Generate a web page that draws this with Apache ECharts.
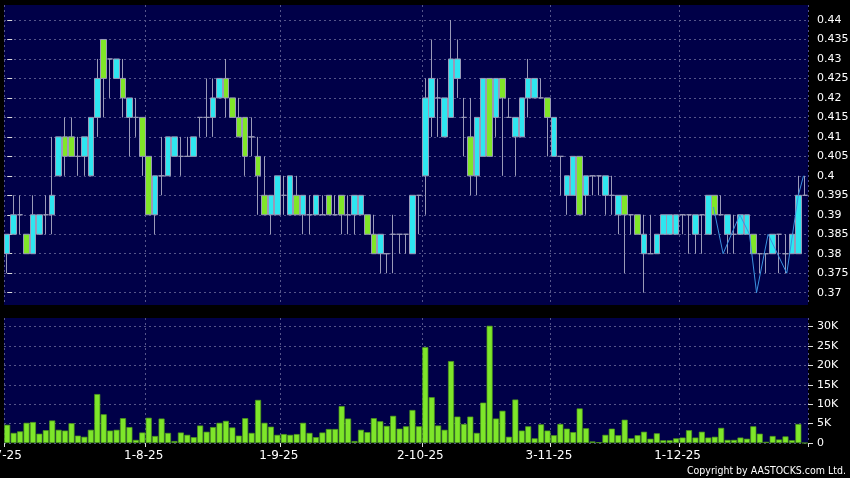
<!DOCTYPE html>
<html>
<head>
<meta charset="utf-8">
<script src="https://cdn.jsdelivr.net/npm/echarts@6/dist/echarts.min.js"></script>
<style>
  html, body { margin: 0; padding: 0; background: #000; }
  #chart { width: 850px; height: 478px; }
</style>
</head>
<body>
<div id="chart"></div>
<script>
// trading days per month (HK calendar, Jul-Dec 2025)
const julDays = [2, 3, 4, 7, 8, 9, 10, 11, 14, 15, 16, 17, 18, 21, 22, 23, 24, 25, 28, 29, 30, 31]
const augDays = [1, 4, 5, 6, 7, 8, 11, 12, 13, 14, 15, 18, 19, 20, 21, 22, 25, 26, 27, 28, 29]
const sepDays = [1, 2, 3, 4, 5, 8, 9, 10, 11, 12, 15, 16, 17, 18, 19, 22, 23, 24, 25, 26, 29, 30]
const octDays = [2, 3, 6, 8, 9, 10, 13, 14, 15, 16, 17, 20, 21, 22, 23, 24, 27, 28, 30, 31]
const novDays = [3, 4, 5, 6, 7, 10, 11, 12, 13, 14, 17, 18, 19, 20, 21, 24, 25, 26, 27, 28]
const decDays = [1, 2, 3, 4, 5, 8, 9, 10, 11, 12, 15, 16, 17, 18, 19, 22, 23, 24, 29, 30]

const months = [[julDays, 7], [augDays, 8], [sepDays, 9], [octDays, 10], [novDays, 11], [decDays, 12]]
const dates = []
const monthStarts = []
months.forEach(([days, m]) => {
  monthStarts.push(dates.length)
  days.forEach(d => dates.push(d + '-' + m + '-25'))
})

const opens = [
  0.38, 0.385, 0.39, 0.385, 0.38, 0.385, 0.39, 0.39, 0.40, 0.41,
  0.41, 0.405, 0.405, 0.40, 0.415, 0.435, 0.43, 0.425, 0.425, 0.415,
  0.415, 0.415, 0.405, 0.39, 0.40, 0.40, 0.405, 0.405, 0.405, 0.405,
  0.415, 0.415, 0.415, 0.42, 0.425, 0.42, 0.415, 0.415, 0.41, 0.405,
  0.395, 0.39, 0.39, 0.395, 0.39, 0.395, 0.39, 0.39, 0.39, 0.39,
  0.395, 0.39, 0.395, 0.39, 0.39, 0.39, 0.39, 0.385, 0.38, 0.38,
  0.385, 0.385, 0.385, 0.38, 0.395, 0.40, 0.415, 0.42, 0.41, 0.415,
  0.425, 0.415, 0.41, 0.40, 0.405, 0.425, 0.415, 0.425, 0.415, 0.41,
  0.41, 0.42, 0.42, 0.42, 0.42, 0.405, 0.405, 0.395, 0.395, 0.405,
  0.395, 0.40, 0.40, 0.395, 0.395, 0.39, 0.395, 0.39, 0.39, 0.38,
  0.38, 0.38, 0.385, 0.385, 0.385, 0.39, 0.39, 0.385, 0.39, 0.385,
  0.395, 0.39, 0.385, 0.385, 0.385, 0.385, 0.385, 0.38, 0.38, 0.38,
  0.385, 0.38, 0.38, 0.38, 0.395
]
const closes = [
  0.385, 0.39, 0.39, 0.38, 0.39, 0.39, 0.39, 0.395, 0.41, 0.405,
  0.405, 0.405, 0.41, 0.415, 0.425, 0.425, 0.43, 0.43, 0.42, 0.42,
  0.415, 0.405, 0.39, 0.40, 0.40, 0.41, 0.41, 0.405, 0.405, 0.41,
  0.415, 0.415, 0.42, 0.425, 0.42, 0.415, 0.41, 0.405, 0.41, 0.40,
  0.39, 0.395, 0.40, 0.395, 0.40, 0.39, 0.395, 0.39, 0.395, 0.39,
  0.39, 0.39, 0.39, 0.39, 0.395, 0.395, 0.385, 0.38, 0.385, 0.38,
  0.385, 0.385, 0.385, 0.395, 0.395, 0.42, 0.425, 0.42, 0.42, 0.43,
  0.43, 0.415, 0.40, 0.415, 0.425, 0.405, 0.425, 0.42, 0.415, 0.415,
  0.42, 0.425, 0.425, 0.42, 0.415, 0.415, 0.405, 0.40, 0.405, 0.39,
  0.40, 0.40, 0.40, 0.40, 0.395, 0.395, 0.39, 0.39, 0.385, 0.385,
  0.38, 0.385, 0.39, 0.39, 0.39, 0.39, 0.39, 0.39, 0.39, 0.395,
  0.39, 0.39, 0.39, 0.385, 0.39, 0.39, 0.38, 0.38, 0.38, 0.385,
  0.385, 0.38, 0.385, 0.395, 0.395
]
const lows = [
  0.375, 0.385, 0.385, 0.38, 0.38, 0.385, 0.385, 0.385, 0.40, 0.40,
  0.405, 0.40, 0.40, 0.40, 0.41, 0.415, 0.42, 0.425, 0.415, 0.405,
  0.41, 0.40, 0.39, 0.385, 0.395, 0.40, 0.405, 0.40, 0.405, 0.405,
  0.41, 0.41, 0.41, 0.42, 0.415, 0.415, 0.41, 0.40, 0.405, 0.39,
  0.39, 0.385, 0.39, 0.39, 0.39, 0.39, 0.385, 0.385, 0.39, 0.39,
  0.39, 0.39, 0.385, 0.385, 0.385, 0.39, 0.385, 0.38, 0.375, 0.375,
  0.375, 0.38, 0.38, 0.38, 0.385, 0.39, 0.41, 0.41, 0.41, 0.415,
  0.42, 0.405, 0.395, 0.395, 0.405, 0.405, 0.41, 0.40, 0.415, 0.40,
  0.41, 0.415, 0.42, 0.42, 0.405, 0.405, 0.395, 0.39, 0.395, 0.39,
  0.39, 0.395, 0.395, 0.39, 0.39, 0.385, 0.375, 0.385, 0.385, 0.37,
  0.38, 0.38, 0.385, 0.385, 0.385, 0.385, 0.38, 0.38, 0.38, 0.385,
  0.39, 0.39, 0.38, 0.38, 0.385, 0.385, 0.38, 0.375, 0.375, 0.38,
  0.375, 0.375, 0.38, 0.38, 0.395
]
const highs = [
  0.385, 0.395, 0.395, 0.385, 0.395, 0.39, 0.395, 0.41, 0.41, 0.415,
  0.415, 0.41, 0.41, 0.415, 0.43, 0.435, 0.43, 0.43, 0.43, 0.42,
  0.42, 0.415, 0.405, 0.40, 0.41, 0.41, 0.41, 0.41, 0.41, 0.41,
  0.415, 0.425, 0.425, 0.425, 0.43, 0.42, 0.42, 0.415, 0.415, 0.41,
  0.405, 0.395, 0.40, 0.40, 0.40, 0.40, 0.395, 0.395, 0.395, 0.395,
  0.395, 0.395, 0.395, 0.395, 0.395, 0.395, 0.39, 0.39, 0.385, 0.38,
  0.39, 0.385, 0.385, 0.395, 0.395, 0.425, 0.435, 0.425, 0.42, 0.44,
  0.435, 0.42, 0.42, 0.415, 0.425, 0.425, 0.425, 0.425, 0.42, 0.415,
  0.42, 0.43, 0.425, 0.425, 0.42, 0.415, 0.405, 0.40, 0.405, 0.405,
  0.40, 0.40, 0.40, 0.40, 0.40, 0.395, 0.395, 0.39, 0.39, 0.39,
  0.39, 0.385, 0.39, 0.39, 0.39, 0.39, 0.39, 0.39, 0.39, 0.395,
  0.395, 0.395, 0.39, 0.39, 0.39, 0.39, 0.385, 0.38, 0.38, 0.385,
  0.385, 0.385, 0.385, 0.40, 0.40
]
// volume in thousands of shares
const volumesK = [
  4.7, 2.6, 3.0, 5.2, 5.4, 2.4, 3.3, 5.8, 3.4, 3.2,
  5.1, 1.9, 1.6, 3.4, 12.6, 7.4, 3.2, 3.4, 6.4, 4.1,
  0.8, 2.7, 6.5, 1.8, 6.3, 2.6, 0.5, 2.7, 2.1, 1.5,
  4.5, 2.9, 4.1, 5.2, 5.7, 4.0, 1.9, 6.4, 2.6, 11.1,
  5.2, 4.2, 2.1, 2.3, 2.1, 2.3, 5.2, 2.6, 1.5, 2.7,
  3.6, 3.6, 9.5, 6.3, 0.5, 3.4, 2.8, 6.4, 5.6, 4.4,
  7.0, 3.7, 4.3, 8.5, 4.3, 24.7, 11.8, 4.5, 3.4, 21.1,
  6.8, 4.9, 6.8, 2.6, 10.4, 30.2, 6.3, 8.3, 1.6, 11.2,
  3.2, 4.3, 1.2, 4.8, 3.2, 2.0, 4.9, 3.7, 2.8, 8.9,
  3.8, 0.4, 0.2, 2.1, 3.7, 2.0, 6.0, 1.2, 2.0, 2.9,
  1.1, 2.5, 0.7, 0.7, 1.2, 1.4, 3.3, 1.4, 2.9, 1.4,
  1.6, 3.9, 0.8, 0.8, 1.4, 1.1, 4.3, 2.4, 0.3, 1.8,
  0.9, 1.7, 0.7, 4.9, 0
]
// thin blue overlay line at the end (position in trading-day index, price)
const lineIdx = [109.8, 111.3, 113.9, 115.4, 116.5, 118.3, 121.2, 123, 123.8]
const lineVals = [0.392, 0.38, 0.39, 0.385, 0.37, 0.385, 0.375, 0.395, 0.40]

const priceTicks = [0.37, 0.375, 0.38, 0.385, 0.39, 0.395, 0.40, 0.405, 0.41, 0.415, 0.42, 0.425, 0.43, 0.435, 0.44]
const volTicks = [0, 5000, 10000, 15000, 20000, 25000, 30000]

const NAVY = '#000048'
const FONT = 'DejaVu Sans'
const gridLine = { color: '#55558a', width: 1, type: [2, 3] }
const isMonthStart = idx => monthStarts.indexOf(idx) >= 0

const chart = echarts.init(document.getElementById('chart'))
const ohlc = opens.map((o, i) => [o, closes[i], lows[i], highs[i]])

const option = {
  backgroundColor: '#000',
  animation: false,
  title: {
    text: 'Copyright by AASTOCKS.com Ltd.',
    right: 4,
    bottom: 1,
    padding: 0,
    textStyle: { color: '#fff', fontSize: 10.5, fontWeight: 'normal', fontFamily: "'DejaVu Sans Condensed', 'Liberation Sans'" }
  },
  grid: [
    { left: 4, right: 42, top: 5, height: 300, show: true, backgroundColor: NAVY, borderWidth: 0, outerBoundsMode: 'none' },
    { left: 4, right: 42, top: 318, height: 125, show: true, backgroundColor: NAVY, borderWidth: 0, outerBoundsMode: 'none' }
  ],
  xAxis: [
    {
      type: 'category', gridIndex: 0, data: dates,
      axisLine: { show: false }, axisTick: { show: false }, axisLabel: { show: false },
      splitLine: { show: true, interval: isMonthStart, lineStyle: gridLine }
    },
    {
      type: 'category', gridIndex: 1, data: dates,
      axisLine: { show: false },
      axisTick: { show: true, interval: isMonthStart, length: 4, lineStyle: { color: '#ddd' } },
      axisLabel: { interval: isMonthStart, color: '#fff', fontSize: 12, fontFamily: FONT, margin: 7, padding: [0, 10, 0, 0] },
      splitLine: { show: true, interval: isMonthStart, lineStyle: gridLine }
    },
    { type: 'value', gridIndex: 0, min: -0.5, max: dates.length - 0.5, show: false }
  ],
  yAxis: [
    {
      type: 'value', gridIndex: 0, position: 'right', min: 0.36684, max: 0.44385, scale: true,
      axisLine: { show: false },
      axisTick: { show: true, length: 5, customValues: priceTicks, lineStyle: { color: '#ddd' } },
      axisLabel: { customValues: priceTicks, color: '#fff', fontSize: 11, fontFamily: FONT, margin: 9 },
      splitLine: { show: true, lineStyle: gridLine }
    },
    {
      type: 'value', gridIndex: 1, position: 'right', min: 0, max: 32200,
      axisLine: { show: false },
      axisTick: { show: true, length: 5, customValues: volTicks, lineStyle: { color: '#ddd' } },
      axisLabel: {
        customValues: volTicks, color: '#fff', fontSize: 11, fontFamily: FONT, margin: 9,
        formatter: v => (v === 0 ? '0' : v / 1000 + 'K')
      },
      splitLine: { show: true, lineStyle: gridLine }
    }
  ],
  series: [
    {
      type: 'candlestick',
      xAxisIndex: 0, yAxisIndex: 0,
      data: ohlc,
      barWidth: 6,
      itemStyle: {
        color: '#2ee6f0',
        color0: '#80e628',
        borderColor: '#9a9ab8',
        borderColor0: '#9a9ab8',
        borderColorDoji: '#9a9ab8',
        borderWidth: 1
      }
    },
    {
      type: 'line',
      xAxisIndex: 2, yAxisIndex: 0,
      data: lineIdx.map((x, i) => [x, lineVals[i]]),
      showSymbol: false,
      z: 5,
      lineStyle: { color: '#3a92e0', width: 1 }
    },
    {
      type: 'bar',
      xAxisIndex: 1, yAxisIndex: 1,
      data: volumesK.map(v => v * 1000),
      barWidth: 6,
      itemStyle: { color: '#7ee62a', borderColor: '#4f9a1a', borderWidth: 0.7 }
    }
  ]
}
chart.setOption(option)
</script>
</body>
</html>
